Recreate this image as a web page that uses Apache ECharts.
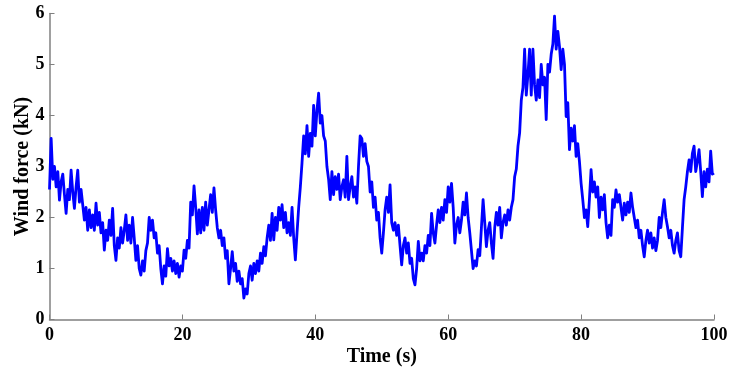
<!DOCTYPE html>
<html>
<head>
<meta charset="utf-8">
<script src="https://cdn.jsdelivr.net/npm/echarts@6/dist/echarts.min.js"></script>
<style>
  html, body { margin: 0; padding: 0; background: #fff; }
  #chart { width: 735px; height: 372px; }
</style>
</head>
<body>
<div id="chart"></div>
<script>
// Sampling interval of the wind force record (s)
var sampleStep = 0.25;

// Wind force (kN), one row per second, four samples per row
var windForce = [
  2.55, 3.55, 2.75, 3.0,
  2.6, 2.9, 2.34, 2.7,
  2.85, 2.45, 2.08, 2.55,
  2.35, 2.93, 2.5, 2.18,
  2.6, 2.93, 2.3, 2.55,
  2.25, 1.95, 2.2, 1.75,
  2.15, 1.8, 2.05, 1.75,
  2.28, 1.85, 2.1, 1.7,
  1.9, 1.36, 1.75, 1.55,
  1.95, 1.65, 2.18, 1.45,
  1.16, 1.6, 1.4, 1.8,
  1.5, 1.75, 2.05, 1.55,
  1.85, 1.5, 2.0, 1.6,
  1.16, 1.45, 1.0, 0.87,
  1.15, 0.95, 1.35, 1.5,
  2.0, 1.75, 1.95, 1.6,
  1.7, 1.3, 1.45, 1.0,
  0.7, 1.05, 0.85, 1.39,
  1.05, 1.2, 0.95, 1.15,
  0.9, 1.1, 0.83, 1.05,
  0.95, 1.36, 1.2, 1.55,
  1.4, 2.3, 2.05, 2.62,
  2.2, 1.68, 2.15, 1.7,
  2.2, 1.75, 2.3, 1.85,
  2.15, 2.45, 2.1, 2.58,
  2.15, 1.8, 1.6, 1.75,
  1.45, 1.6, 1.2, 1.35,
  0.7, 1.0, 1.33, 0.95,
  1.1, 0.75, 0.95, 0.7,
  0.8, 0.42, 0.6, 0.5,
  0.9, 1.05, 0.77, 1.1,
  0.9, 1.15, 0.95, 1.3,
  1.1, 1.43, 1.25, 1.6,
  1.85, 1.55, 2.08, 1.56,
  2.0, 1.75, 2.2, 1.95,
  2.25, 1.8, 2.1, 1.7,
  1.9, 1.65, 2.2, 1.6,
  1.17, 1.7, 2.2, 2.6,
  3.07, 3.6, 3.25, 3.8,
  3.2, 3.65, 3.4, 4.2,
  3.6, 4.1, 4.44, 3.85,
  4.0, 3.6, 3.5, 3.0,
  2.75, 2.35, 2.9, 2.45,
  2.8, 2.55, 2.85, 2.35,
  2.6, 2.74, 2.4, 3.2,
  2.35, 2.6, 2.8, 2.4,
  2.6, 2.28, 3.0, 3.6,
  3.55, 3.2, 3.45, 3.1,
  3.0, 2.5, 2.7, 2.2,
  2.4, 1.95, 2.1, 1.6,
  1.3, 1.7, 2.15, 2.4,
  2.1, 2.64, 1.9, 1.75,
  1.9, 1.65, 1.85, 1.45,
  1.07, 1.45, 1.6, 1.3,
  1.5, 1.1, 1.2, 0.8,
  0.68, 1.0, 1.53, 1.15,
  1.3, 1.15, 1.45, 1.3,
  1.65, 1.45, 2.08, 1.7,
  1.5, 1.85, 2.15, 1.9,
  2.2, 1.95, 2.35, 2.1,
  2.6, 2.3, 2.67, 2.2,
  1.5, 1.85, 2.0, 1.7,
  1.95, 2.3, 2.05, 2.48,
  2.0, 1.7, 1.35, 1.0,
  1.15, 1.05, 1.37, 1.25,
  1.8, 2.35, 1.9, 1.43,
  1.75, 1.9, 1.5, 1.2,
  1.8, 2.1, 1.85, 2.2,
  1.6, 1.9, 2.05, 1.85,
  2.15, 1.95, 2.2, 2.35,
  2.8, 2.95, 3.4, 3.66,
  4.3, 4.55, 5.3, 4.4,
  4.8, 5.3, 4.4, 5.3,
  4.6, 4.3, 4.7, 4.35,
  5.0, 4.6, 4.75, 3.92,
  5.0, 4.85, 5.2, 5.4,
  5.95, 5.3, 5.65, 5.35,
  4.9, 5.3, 5.0, 3.98,
  4.25, 3.33, 3.75, 3.5,
  3.8, 3.2, 3.45, 3.1,
  2.67, 2.35, 2.0, 2.15,
  1.82, 2.35, 2.94, 2.5,
  2.7, 2.4, 2.6, 2.0,
  2.4, 2.15, 2.45, 1.9,
  1.6, 1.85, 1.65, 2.35,
  2.2, 2.54, 2.3, 2.45,
  2.2, 1.95, 2.28, 2.05,
  2.3, 2.1, 2.48, 2.2,
  2.0, 1.8, 1.95, 1.6,
  1.75, 1.45, 1.23, 1.55,
  1.75, 1.5, 1.7, 1.4,
  1.6, 1.35, 1.55, 2.0,
  1.8, 2.1, 2.35, 2.0,
  1.82, 1.6, 1.75, 1.45,
  1.3, 1.55, 1.7, 1.35,
  1.23, 1.8, 2.35, 2.6,
  2.9, 3.13, 2.9, 3.26,
  3.4, 2.9, 3.1, 3.33,
  2.9, 2.41, 2.9, 2.6,
  2.95, 2.7, 3.3, 2.85,
  2.87
];

// Axis ticks
var timeTicks = [0, 20, 40, 60, 80, 100];
var forceTicks = [0, 1, 2, 3, 4, 5, 6];

var points = windForce.map(function (v, i) { return [i * sampleStep, v]; });

var labelFont = {
  fontFamily: '"Liberation Serif", "Times New Roman", serif',
  fontWeight: 'bold',
  fontSize: 18,
  color: '#000'
};
var titleFont = Object.assign({}, labelFont, { fontSize: 20 });

var chart = echarts.init(document.getElementById('chart'), null, { renderer: 'canvas' });
chart.setOption({
  animation: false,
  backgroundColor: '#fff',
  grid: { left: 49.5, right: 21, top: 13.5, bottom: 52.5, containLabel: false },
  xAxis: {
    type: 'value',
    min: timeTicks[0],
    max: timeTicks[timeTicks.length - 1],
    interval: timeTicks[1] - timeTicks[0],
    name: 'Time (s)',
    nameLocation: 'middle',
    nameGap: 27,
    nameMoveOverlap: false,
    nameTextStyle: titleFont,
    axisLine: { onZero: false, lineStyle: { color: '#808080', width: 1.5 } },
    axisTick: { inside: true, length: 5, lineStyle: { color: '#808080', width: 1 } },
    axisLabel: Object.assign({ margin: 7 }, labelFont),
    splitLine: { show: false }
  },
  yAxis: {
    type: 'value',
    min: forceTicks[0],
    max: forceTicks[forceTicks.length - 1],
    interval: forceTicks[1] - forceTicks[0],
    name: 'Wind force (kN)',
    nameLocation: 'middle',
    nameGap: 17,
    nameMoveOverlap: false,
    nameRotate: 90,
    nameTextStyle: titleFont,
    axisLine: { show: true, onZero: false, lineStyle: { color: '#808080', width: 1.5 } },
    axisTick: { show: true, inside: true, length: 5, lineStyle: { color: '#808080', width: 1 } },
    axisLabel: Object.assign({ margin: 5 }, labelFont),
    splitLine: { show: false }
  },
  series: [{
    type: 'line',
    data: points,
    showSymbol: false,
    symbol: 'none',
    sampling: null,
    lineStyle: { color: '#0000ff', width: 2.8, join: 'round' },
    z: 3
  }]
});
</script>
</body>
</html>
